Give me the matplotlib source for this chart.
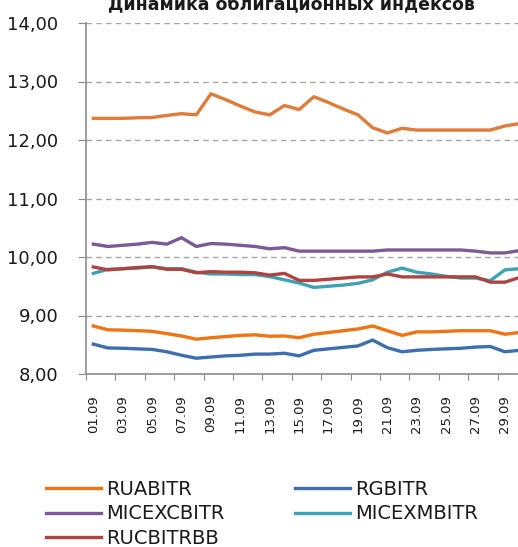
import matplotlib
matplotlib.use("Agg")
import matplotlib.pyplot as plt
from matplotlib.ticker import FixedLocator, FuncFormatter

# dias del mes (septiembre)
dias = list(range(1, 31))
etiquetas = ["%02d.09" % d for d in range(1, 30, 2)]

# valores
ruabitr = [8.82, 8.755, 8.75, 8.74, 8.73, 8.69, 8.65, 8.595, 8.62, 8.64,
           8.66, 8.67, 8.645, 8.65, 8.62, 8.68, 8.71, 8.74, 8.77, 8.82,
           8.74, 8.66, 8.72, 8.72, 8.73, 8.74, 8.74, 8.74, 8.68, 8.71]
rgbitr = [8.51, 8.445, 8.44, 8.43, 8.42, 8.38, 8.32, 8.27, 8.29, 8.31,
          8.32, 8.34, 8.34, 8.355, 8.31, 8.405, 8.43, 8.455, 8.48, 8.58,
          8.45, 8.38, 8.405, 8.42, 8.43, 8.44, 8.46, 8.47, 8.38, 8.405]
micexcbitr = [10.22, 10.18, 10.20, 10.22, 10.25, 10.22, 10.33, 10.18, 10.23, 10.22,
              10.20, 10.18, 10.14, 10.16, 10.10, 10.10, 10.10, 10.10, 10.10, 10.10,
              10.12, 10.12, 10.12, 10.12, 10.12, 10.12, 10.10, 10.07, 10.07, 10.11]
micexmbitr = [9.72, 9.79, 9.80, 9.81, 9.83, 9.80, 9.80, 9.74, 9.71, 9.71,
              9.70, 9.70, 9.665, 9.61, 9.555, 9.48, 9.50, 9.52, 9.55, 9.61,
              9.74, 9.81, 9.74, 9.71, 9.67, 9.64, 9.64, 9.595, 9.78, 9.80]
rucbitrbb = [9.83, 9.78, 9.80, 9.82, 9.835, 9.79, 9.79, 9.73, 9.75, 9.74,
             9.74, 9.73, 9.69, 9.72, 9.60, 9.60, 9.62, 9.64, 9.66, 9.66,
             9.71, 9.66, 9.66, 9.66, 9.66, 9.66, 9.66, 9.57, 9.57, 9.65]
# serie superior (sin entrada en la leyenda)
superior = [12.37, 12.37, 12.37, 12.38, 12.385, 12.42, 12.45, 12.43, 12.79, 12.69,
            12.58, 12.48, 12.43, 12.59, 12.52, 12.74, 12.64, 12.53, 12.43, 12.21,
            12.12, 12.20, 12.17, 12.17, 12.17, 12.17, 12.17, 12.17, 12.24, 12.28]

W, H = 518, 547
fig = plt.figure(figsize=(W / 100, H / 100), dpi=100)
# el area del grafico sale del borde derecho (la imagen esta recortada)
ax = fig.add_axes([86 / W, (H - 374) / H, (527 - 86) / W, (374 - 23) / H])

lw = 2.4
ax.plot(dias, superior, color="#E07B39", lw=lw)
l1, = ax.plot(dias, ruabitr, color="#F07314", lw=lw, label="RUABITR")
l2, = ax.plot(dias, rgbitr, color="#3F6EAF", lw=lw, label="RGBITR")
l3, = ax.plot(dias, micexcbitr, color="#7B5A96", lw=lw, label="MICEXCBITR")
l4, = ax.plot(dias, micexmbitr, color="#3EA2B6", lw=lw, label="MICEXMBITR")
l5, = ax.plot(dias, rucbitrbb, color="#B0433F", lw=lw, label="RUCBITRBB")

# ejes
ax.set_xlim(0.5, 30.5)
ax.set_ylim(8, 14)
ax.set_yticks(range(8, 15))
ax.yaxis.set_major_formatter(FuncFormatter(lambda v, p: ("%.2f" % v).replace(".", ",")))
ax.tick_params(axis="y", labelsize=13, length=6, color="#8C8C8C", pad=14, labelcolor="#1A1A1A")
ax.yaxis.grid(True, linestyle=(0, (4, 3)), color="#A6A6A6", lw=1)
ax.set_axisbelow(True)

ax.xaxis.set_major_locator(FixedLocator([0.5 + 2 * i for i in range(16)]))
ax.xaxis.set_minor_locator(FixedLocator(list(range(1, 30, 2))))
ax.set_xticklabels([], minor=False)
ax.set_xticklabels(etiquetas, minor=True, rotation=90)
ax.tick_params(axis="x", which="major", length=4, color="#8C8C8C")
ax.tick_params(axis="x", which="minor", length=0, labelsize=9.5, pad=15, labelcolor="#1A1A1A")

for s in ["top", "right"]:
    ax.spines[s].set_visible(False)
for s in ["left", "bottom"]:
    ax.spines[s].set_color("#8C8C8C")
    ax.spines[s].set_linewidth(1.2)

# titulo (en el original solo se ve su parte inferior)
fig.text(291 / W, (H - 9) / H, "Динамика облигационных индексов", ha="center",
         va="baseline", fontsize=12.5, fontweight="bold", color="#1A1A1A")

# leyenda
fig.legend([l1, l3, l5, l2, l4], ["RUABITR", "MICEXCBITR", "RUCBITRBB", "RGBITR", "MICEXMBITR"],
           ncol=2, loc="upper left", bbox_to_anchor=(46 / W, (H - 480) / H),
           frameon=False, fontsize=14, handlelength=2.85, handletextpad=0.25,
           columnspacing=3.6, labelspacing=0.28, borderpad=0, borderaxespad=0,
           labelcolor="#1A1A1A")

fig.savefig("out.png", dpi=100)
